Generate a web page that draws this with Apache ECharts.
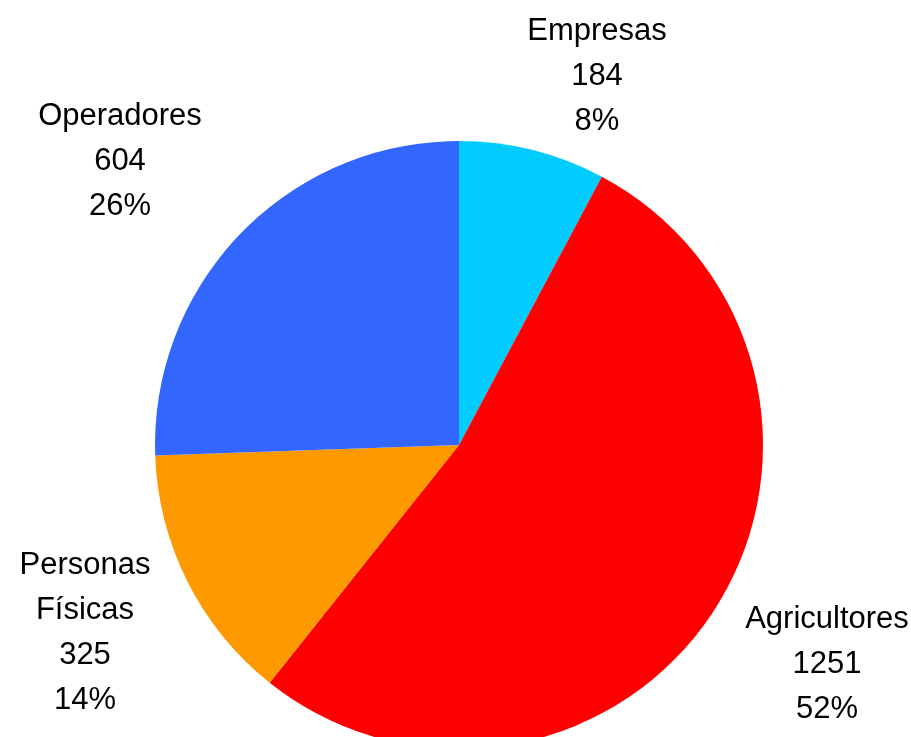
<!DOCTYPE html>
<html>
<head>
<meta charset="utf-8">
<script src="https://cdn.jsdelivr.net/npm/echarts@6/dist/echarts.min.js"></script>
<style>
  html, body { margin: 0; padding: 0; background: #ffffff; }
  #chart { width: 911px; height: 737px; }
</style>
</head>
<body>
<div id="chart"></div>
<script>
// Categories, counts and printed shares (in %), clockwise from the top
const categories = ['Empresas', 'Agricultores', 'Personas\nFísicas', 'Operadores'];
const counts = [184, 1251, 325, 604];
const shares = [8, 52, 14, 26];

// Slice colours
const colors = ['#00CCFF', '#FF0000', '#FF9900', '#3366FF'];

// Where each text block sits (centre of the block, in px)
const labelSpots = [[597, 76], [827, 664], [85, 633], [120, 161]];

const chart = echarts.init(document.getElementById('chart'));

chart.setOption({
  animation: false,
  backgroundColor: '#ffffff',
  series: [{
    type: 'pie',
    center: [459, 445],
    radius: 304,
    startAngle: 90,
    clockwise: true,
    avoidLabelOverlap: false,
    itemStyle: { borderWidth: 0 },
    emphasis: { disabled: true },
    labelLine: { show: false },
    label: {
      show: true,
      position: 'outside',
      color: '#000000',
      fontFamily: 'Liberation Sans, Arial, sans-serif',
      fontSize: 31,
      lineHeight: 45,
      formatter: p => p.name + '\n' + p.value + '\n' + shares[p.dataIndex] + '%'
    },
    labelLayout: p => ({
      x: labelSpots[p.dataIndex][0],
      y: labelSpots[p.dataIndex][1],
      align: 'center',
      verticalAlign: 'middle'
    }),
    data: categories.map((name, i) => ({
      name: name,
      value: counts[i],
      itemStyle: { color: colors[i] }
    }))
  }]
});
</script>
</body>
</html>
